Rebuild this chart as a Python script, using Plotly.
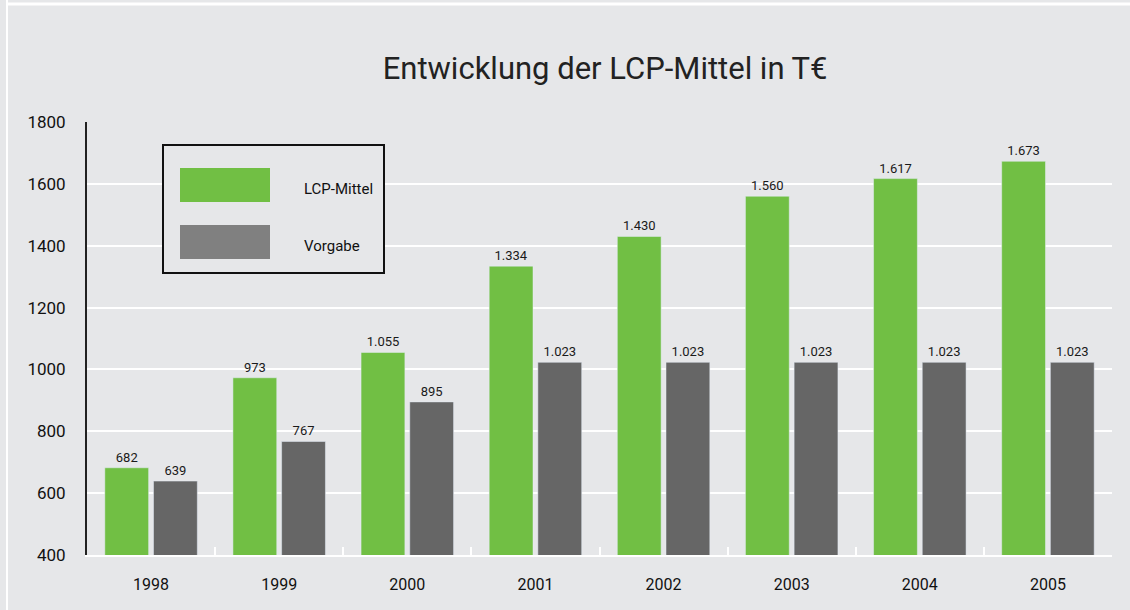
import plotly.graph_objects as go

years = ["1998", "1999", "2000", "2001", "2002", "2003", "2004", "2005"]
lcp_mittel = [682, 973, 1055, 1334, 1430, 1560, 1617, 1673]
vorgabe = [639, 767, 895, 1023, 1023, 1023, 1023, 1023]
y_ticks = [400, 600, 800, 1000, 1200, 1400, 1600, 1800]

W, H = 1130, 610
L, R, T, B = 87, 18, 122, 55
PW, PH = W - L - R, H - T - B

def px(x):
    return (x - L) / PW

def py(y):
    return (H - B - y) / PH

BG = "#e6e7e9"
GREEN = "#71bf44"
GRAY = "#666666"
FONT = "Roboto, Arial, sans-serif"

fig = go.Figure()
fig.add_trace(go.Bar(
    x=years, y=lcp_mittel, name="LCP-Mittel", marker_color=GREEN,
    texttemplate="%{y:,}", textposition="outside",
    textfont=dict(size=13, color="#1a1a1a", family=FONT), cliponaxis=False,
))
fig.add_trace(go.Bar(
    x=years, y=vorgabe, name="Vorgabe", marker_color=GRAY,
    texttemplate="%{y:,}", textposition="outside",
    textfont=dict(size=13, color="#1a1a1a", family=FONT), cliponaxis=False,
))

shapes = [
    # outer white frame lines
    dict(type="line", xref="paper", yref="paper", x0=px(7), x1=px(7), y0=py(0), y1=py(H),
         line=dict(color="white", width=2), layer="below"),
    dict(type="line", xref="paper", yref="paper", x0=px(7), x1=px(W), y0=py(4), y1=py(4),
         line=dict(color="white", width=3), layer="below"),
    # legend box
    dict(type="rect", xref="paper", yref="paper", x0=px(163), x1=px(384), y0=py(273), y1=py(145),
         line=dict(color="#111111", width=2), fillcolor=BG, layer="above"),
    dict(type="rect", xref="paper", yref="paper", x0=px(180), x1=px(270), y0=py(202), y1=py(168),
         line=dict(width=0), fillcolor=GREEN, layer="above"),
    dict(type="rect", xref="paper", yref="paper", x0=px(180), x1=px(270), y0=py(259), y1=py(225),
         line=dict(width=0), fillcolor="#808080", layer="above"),
]
annotations = [
    dict(xref="paper", yref="paper", x=px(302), y=py(189), text="LCP-Mittel", showarrow=False,
         xanchor="left", yanchor="middle", font=dict(size=15, color="#111111", family=FONT)),
    dict(xref="paper", yref="paper", x=px(302), y=py(246), text="Vorgabe", showarrow=False,
         xanchor="left", yanchor="middle", font=dict(size=15, color="#111111", family=FONT)),
]

fig.update_layout(
    width=W, height=H,
    margin=dict(l=L, r=R, t=T, b=B),
    paper_bgcolor=BG, plot_bgcolor=BG,
    separators=",.",
    barmode="group", bargap=0.24, bargroupgap=0.1,
    showlegend=False,
    title=dict(text="Entwicklung der LCP-Mittel in T€", x=0.5355, xanchor="center",
               y=1 - 68 / H, yanchor="middle",
               font=dict(size=31, color="#222222", family=FONT)),
    shapes=shapes, annotations=annotations,
    xaxis=dict(
        showline=True, linecolor="white", linewidth=2,
        ticks="inside", tickson="boundaries", tickcolor="white", ticklen=8, tickwidth=2,
        tickfont=dict(size=16, color="#111111", family=FONT),
        ticklabelstandoff=14, showgrid=False,
    ),
    yaxis=dict(
        range=[400, 1800], tickvals=y_ticks, tickformat="d",
        showline=True, linecolor="#222222", linewidth=2,
        showgrid=True, gridcolor="white", gridwidth=2, zeroline=False,
        tickfont=dict(size=17, color="#111111", family=FONT),
        ticklabelstandoff=16,
    ),
)

fig.write_html(
    "out.html",
    config={"displayModeBar": False},
    post_script="document.body.style.margin='0';document.body.style.overflow='hidden';",
)
